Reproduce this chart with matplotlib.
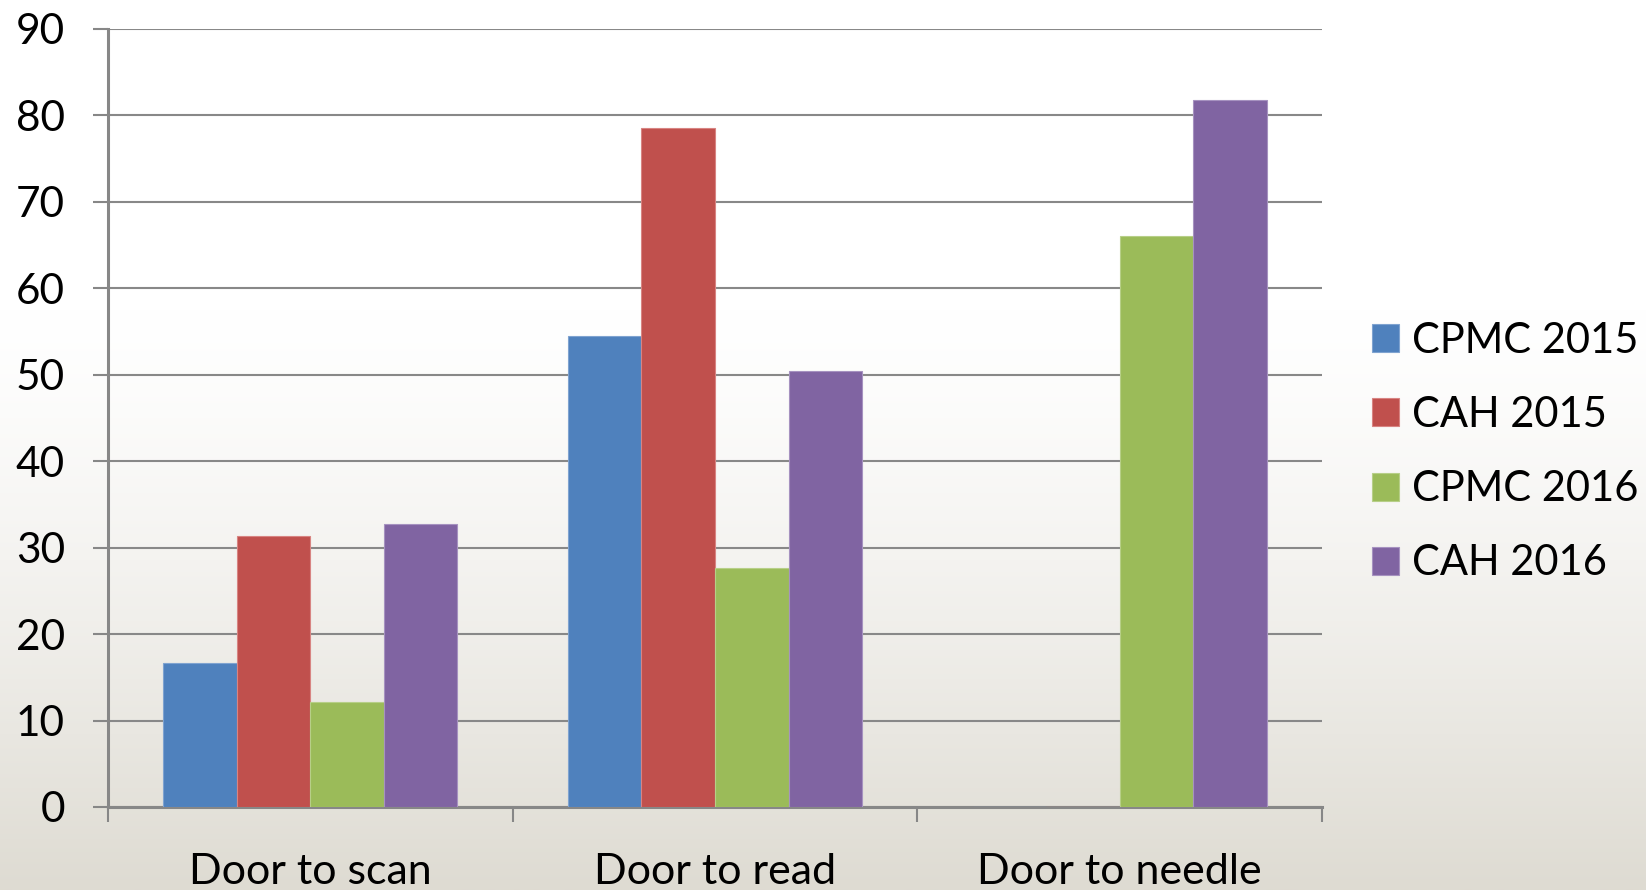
import numpy as np
import matplotlib
matplotlib.use('Agg')
import matplotlib.pyplot as plt

# Chart data
categories = ['Door to scan', 'Door to read', 'Door to needle']
series_names = ['CPMC 2015', 'CAH 2015', 'CPMC 2016', 'CAH 2016']
cpmc_2015 = [16.7, 54.5, 0]
cah_2015 = [31.4, 78.5, 0]
cpmc_2016 = [12.1, 27.6, 66.0]
cah_2016 = [32.7, 50.4, 81.8]
y_ticks = [0, 10, 20, 30, 40, 50, 60, 70, 80, 90]

series_values = [cpmc_2015, cah_2015, cpmc_2016, cah_2016]
colors = ['#4F81BD', '#C0504D', '#9BBB59', '#8064A2']
edge_colors = ['#7FA3D0', '#D88482', '#B7CF88', '#A692C0']

plt.rcParams['font.family'] = ['Lato', 'DejaVu Sans']
W, H = 1646, 890
fig = plt.figure(figsize=(W / 100, H / 100), dpi=100)

# Background gradient: white on top, warm grey at the bottom
bg = fig.add_axes([0, 0, 1, 1], zorder=-10)
t = np.linspace(0, 1, 400)
ramp = np.clip((t - 0.35) / 0.65, 0, 1) ** 1.3
top = np.array([255, 255, 255]) / 255
bottom = np.array([222, 219, 210]) / 255
grad = top[None, :] * (1 - ramp[:, None]) + bottom[None, :] * ramp[:, None]
bg.imshow(grad[:, None, :], aspect='auto', extent=[0, 1, 0, 1], origin='upper')
bg.axis('off')

left, right, top_px, bot_px = 108, 1322, 29, 807
ax = fig.add_axes([left / W, 1 - bot_px / H, (right - left) / W, (bot_px - top_px) / H])
ax.patch.set_alpha(0)

n = len(series_values)
width = 1 / (n + 1.5)
x = np.arange(len(categories))
for i, (vals, name) in enumerate(zip(series_values, series_names)):
    offs = (i - (n - 1) / 2) * width
    ax.bar(x + offs, vals, width, color=colors[i], edgecolor=edge_colors[i],
           linewidth=0.8, label=name, zorder=3)

ax.set_xlim(-0.5, len(categories) - 0.5)
ax.set_ylim(0, 90)
ax.set_yticks(y_ticks)
ax.grid(axis='y', color='#888888', linewidth=1.5, zorder=0)
ax.set_axisbelow(True)

for s in ['top', 'right']:
    ax.spines[s].set_visible(False)
for s in ['left', 'bottom']:
    ax.spines[s].set_color('#878787')
    ax.spines[s].set_linewidth(2.2)

# boundaries between categories get tick marks, labels sit in the middle
ax.set_xticks(np.arange(-0.5, len(categories), 1.0))
ax.set_xticklabels([])
ax.set_xticks(x, minor=True)
ax.set_xticklabels(categories, minor=True, fontsize=31)
ax.tick_params(axis='x', which='major', length=11, width=1.5, color='#878787', direction='out')
ax.tick_params(axis='x', which='minor', length=0, pad=33)
ax.tick_params(axis='y', length=11, width=1.5, color='#878787', labelsize=30.5, pad=20)

ax.legend(loc='center left', bbox_to_anchor=(1355 / W, 0.492), bbox_transform=fig.transFigure,
          frameon=False, fontsize=30, handlelength=0.66, handleheight=0.66,
          handletextpad=0.3, labelspacing=0.87, borderaxespad=0)

fig.savefig('out.png', dpi=100)
